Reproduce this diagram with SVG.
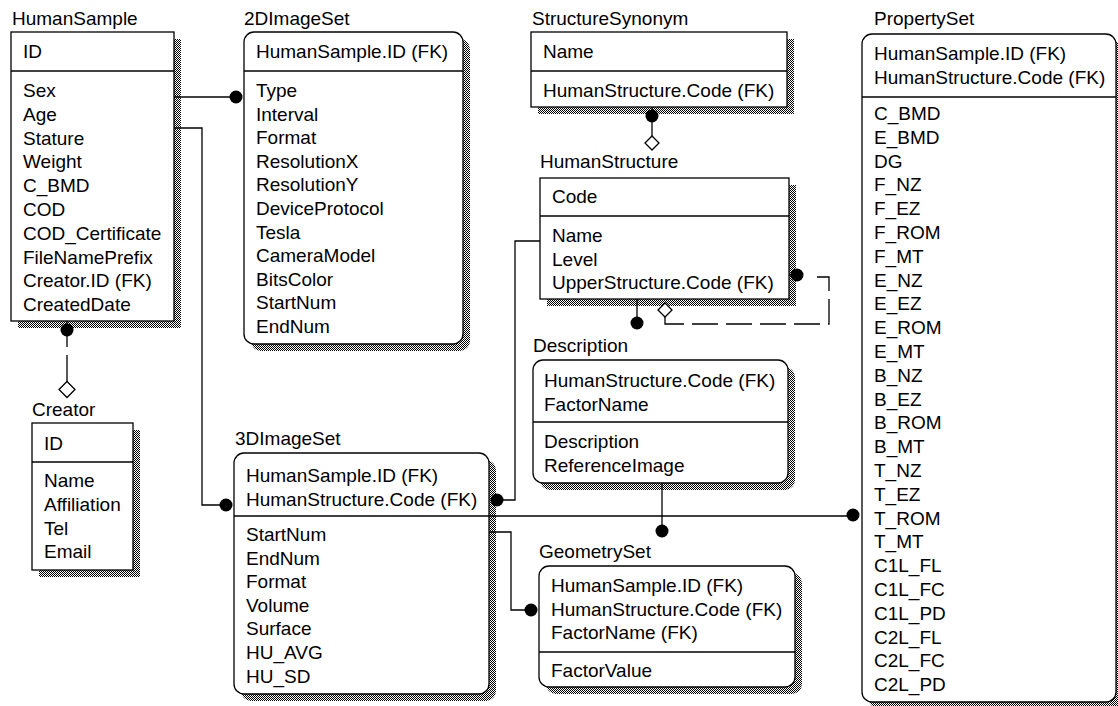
<svg xmlns="http://www.w3.org/2000/svg" width="1118" height="706" viewBox="0 0 1118 706">
<defs>
<pattern id="dith" width="2" height="2" patternUnits="userSpaceOnUse"><rect width="2" height="2" fill="#fff"/><rect width="1" height="1" fill="#000"/><rect x="1" y="1" width="1" height="1" fill="#000"/></pattern>
<style>
text{font-family:"Liberation Sans",Arial,sans-serif;font-size:19px;fill:#000}
.box{fill:#fff;stroke:#000;stroke-width:1.3}
.sh{fill:url(#dith)}
.div{stroke:#000;stroke-width:1.3}
.c{fill:none;stroke:#000;stroke-width:1.3}
.dot{fill:#000}
.dia{fill:#fff;stroke:#000;stroke-width:1.3}
.dash{fill:none;stroke:#000;stroke-width:1.3;stroke-dasharray:26 8}
</style>
</defs>
<rect width="1118" height="706" fill="#fff"/>

<g id="HumanSample">
<text x="12" y="25">HumanSample</text>
<rect class="sh" x="18" y="39" width="163" height="289"/>
<rect class="box" x="11" y="32" width="163" height="289"/>
<line class="div" x1="11" y1="71" x2="174" y2="71"/>
<text x="23" y="58">ID</text>
<text x="23" y="97">Sex</text>
<text x="23" y="120.8">Age</text>
<text x="23" y="144.6">Stature</text>
<text x="23" y="168.4">Weight</text>
<text x="23" y="192.2">C_BMD</text>
<text x="23" y="216">COD</text>
<text x="23" y="239.8">COD_Certificate</text>
<text x="23" y="263.6">FileNamePrefix</text>
<text x="23" y="287.4">Creator.ID (FK)</text>
<text x="23" y="311.2">CreatedDate</text>
</g>

<g id="Creator">
<text x="32" y="416">Creator</text>
<rect class="sh" x="39" y="430" width="101" height="147"/>
<rect class="box" x="32" y="423" width="101" height="147"/>
<line class="div" x1="32" y1="462" x2="133" y2="462"/>
<text x="44" y="450">ID</text>
<text x="44" y="487">Name</text>
<text x="44" y="510.8">Affiliation</text>
<text x="44" y="534.6">Tel</text>
<text x="44" y="558.4">Email</text>
</g>

<g id="ImageSet2D">
<text x="244" y="25">2DImageSet</text>
<rect class="sh" x="251" y="39" width="219" height="312" rx="10"/>
<rect class="box" x="244" y="32" width="219" height="312" rx="10"/>
<line class="div" x1="244" y1="71" x2="463" y2="71"/>
<text x="256" y="58">HumanSample.ID (FK)</text>
<text x="256" y="97">Type</text>
<text x="256" y="120.6">Interval</text>
<text x="256" y="144.2">Format</text>
<text x="256" y="167.8">ResolutionX</text>
<text x="256" y="191.4">ResolutionY</text>
<text x="256" y="215">DeviceProtocol</text>
<text x="256" y="238.6">Tesla</text>
<text x="256" y="262.2">CameraModel</text>
<text x="256" y="285.8">BitsColor</text>
<text x="256" y="309.4">StartNum</text>
<text x="256" y="333">EndNum</text>
</g>

<g id="StructureSynonym">
<text x="532" y="25">StructureSynonym</text>
<rect class="sh" x="538" y="39" width="256" height="75"/>
<rect class="box" x="531" y="32" width="256" height="75"/>
<line class="div" x1="531" y1="71" x2="787" y2="71"/>
<text x="543" y="58">Name</text>
<text x="543" y="97">HumanStructure.Code (FK)</text>
</g>

<g id="HumanStructure">
<text x="540" y="168">HumanStructure</text>
<rect class="sh" x="547" y="185" width="249" height="121"/>
<rect class="box" x="540" y="178" width="249" height="121"/>
<line class="div" x1="540" y1="216" x2="789" y2="216"/>
<text x="552" y="203">Code</text>
<text x="552" y="242">Name</text>
<text x="552" y="265.7">Level</text>
<text x="552" y="289.4">UpperStructure.Code (FK)</text>
</g>

<g id="Description">
<text x="533" y="352">Description</text>
<rect class="sh" x="540" y="367" width="255" height="123" rx="10"/>
<rect class="box" x="533" y="360" width="255" height="123" rx="10"/>
<line class="div" x1="533" y1="422" x2="788" y2="422"/>
<text x="544" y="387">HumanStructure.Code (FK)</text>
<text x="544" y="410.5">FactorName</text>
<text x="544" y="447.5">Description</text>
<text x="544" y="471.5">ReferenceImage</text>
</g>

<g id="ImageSet3D">
<text x="235" y="445">3DImageSet</text>
<rect class="sh" x="241" y="460" width="255" height="241" rx="10"/>
<rect class="box" x="234" y="453" width="255" height="241" rx="10"/>
<line class="div" x1="234" y1="516" x2="489" y2="516"/>
<text x="246" y="482">HumanSample.ID (FK)</text>
<text x="246" y="505.5">HumanStructure.Code (FK)</text>
<text x="246" y="541">StartNum</text>
<text x="246" y="564.6">EndNum</text>
<text x="246" y="588.2">Format</text>
<text x="246" y="611.8">Volume</text>
<text x="246" y="635.4">Surface</text>
<text x="246" y="659">HU_AVG</text>
<text x="246" y="682.6">HU_SD</text>
</g>

<g id="GeometrySet">
<text x="539" y="558">GeometrySet</text>
<rect class="sh" x="546" y="573" width="256" height="121" rx="10"/>
<rect class="box" x="539" y="566" width="256" height="121" rx="10"/>
<line class="div" x1="539" y1="652" x2="795" y2="652"/>
<text x="551" y="592">HumanSample.ID (FK)</text>
<text x="551" y="615.5">HumanStructure.Code (FK)</text>
<text x="551" y="639">FactorName (FK)</text>
<text x="551" y="677">FactorValue</text>
</g>

<g id="PropertySet">
<text x="874" y="25">PropertySet</text>
<rect class="sh" x="869" y="41" width="254" height="668" rx="10"/>
<rect class="box" x="862" y="34" width="254" height="668" rx="10"/>
<line class="div" x1="862" y1="97" x2="1116" y2="97"/>
<text x="874" y="60">HumanSample.ID (FK)</text>
<text x="874" y="83.5">HumanStructure.Code (FK)</text>
<text x="874" y="120">C_BMD</text>
<text x="874" y="143.8">E_BMD</text>
<text x="874" y="167.6">DG</text>
<text x="874" y="191.4">F_NZ</text>
<text x="874" y="215.2">F_EZ</text>
<text x="874" y="239">F_ROM</text>
<text x="874" y="262.8">F_MT</text>
<text x="874" y="286.6">E_NZ</text>
<text x="874" y="310.4">E_EZ</text>
<text x="874" y="334.2">E_ROM</text>
<text x="874" y="358">E_MT</text>
<text x="874" y="381.8">B_NZ</text>
<text x="874" y="405.6">B_EZ</text>
<text x="874" y="429.4">B_ROM</text>
<text x="874" y="453.2">B_MT</text>
<text x="874" y="477">T_NZ</text>
<text x="874" y="500.8">T_EZ</text>
<text x="874" y="524.6">T_ROM</text>
<text x="874" y="548.4">T_MT</text>
<text x="874" y="572.2">C1L_FL</text>
<text x="874" y="596">C1L_FC</text>
<text x="874" y="619.8">C1L_PD</text>
<text x="874" y="643.6">C2L_FL</text>
<text x="874" y="667.4">C2L_FC</text>
<text x="874" y="691.2">C2L_PD</text>
</g>

<g id="connectors">
<path class="c" d="M174 97 H236"/>
<circle class="dot" cx="236" cy="97" r="6.5"/>
<path class="c" d="M174 128 H202 V505 H226"/>
<circle class="dot" cx="226" cy="505" r="6.5"/>
<path class="c" d="M67 321 V347 M67 355 V382"/>
<circle class="dot" cx="67" cy="330" r="6.5"/>
<path class="dia" d="M67 381.5 L75 389.5 L67 397.5 L59 389.5 Z"/>
<path class="c" d="M652 107 V136"/>
<circle class="dot" cx="652" cy="116" r="6.5"/>
<path class="dia" d="M652 136 L659 143 L652 150 L645 143 Z"/>
<path class="c" d="M789 275 H797"/>
<circle class="dot" cx="797" cy="275" r="6.5"/>
<path class="dash" d="M665 317 V324 H829 V277 H813"/>
<path class="dia" d="M665 303 L672 310 L665 317 L658 310 Z"/>
<path class="c" d="M637 299 V323"/>
<circle class="dot" cx="637" cy="323" r="6.5"/>
<path class="c" d="M540 241 H515 V500 H497"/>
<circle class="dot" cx="497" cy="500" r="6.5"/>
<path class="c" d="M489 516 H853"/>
<circle class="dot" cx="853" cy="515" r="6.5"/>
<path class="c" d="M662 483 V531"/>
<circle class="dot" cx="662" cy="531" r="6.5"/>
<path class="c" d="M489 532 H511 V610 H531"/>
<circle class="dot" cx="531" cy="610" r="6.5"/>
</g>
</svg>
